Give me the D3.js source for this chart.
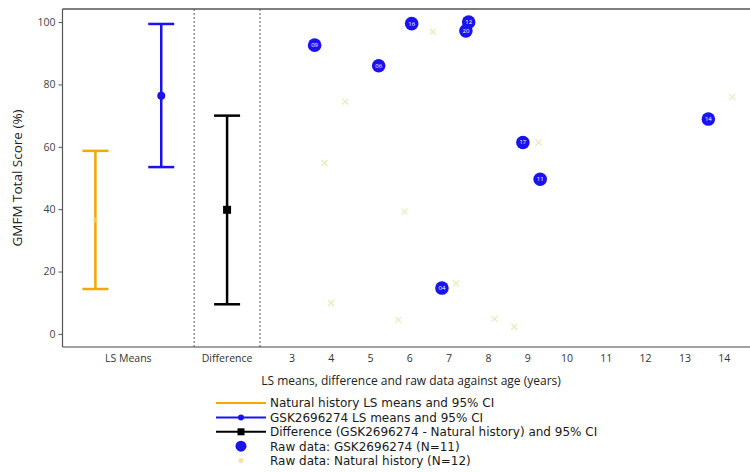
<!DOCTYPE html>
<html><head><meta charset="utf-8">
<script src="https://cdn.jsdelivr.net/npm/d3@7"></script>
<style>
html,body{margin:0;padding:0;background:#fff;}
svg text{font-family:"Open Sans","DejaVu Sans",sans-serif;}
</style></head>
<body><svg id="c" width="750" height="472"></svg>
<script>
// ---- data ----
const panelLabels = ["LS Means", "Difference"];
const ciGroups = ["Natural history", "GSK2696274", "Difference"];
const ciMean  = [36.5, 76.4, 39.8];
const ciLower = [14.4, 53.5, 9.5];
const ciUpper = [58.7, 99.4, 70.0];
const ciPos   = [0.5, 1.5, 2.5];          // position within the left panels
const panelPos = [1, 2.5];

const gskIds  = ["09","06","16","12","20","04","17","11","14"];
const gskAge  = [3.59, 5.22, 6.06, 7.51, 7.44, 6.83, 8.89, 9.33, 13.61];
const gskVal  = [92.6, 86.0, 99.5, 100.0, 97.2, 14.7, 61.4, 49.6, 68.9];

const nhAge   = [6.6, 4.37, 3.84, 5.88, 4.01, 5.72, 7.19, 8.17, 8.67, 9.29, 14.22];
const nhVal   = [96.9, 74.5, 54.8, 39.2, 9.9, 4.5, 16.2, 4.8, 2.3, 61.4, 76.0];

const yTicks  = [0, 20, 40, 60, 80, 100];
const ageTicks = [3,4,5,6,7,8,9,10,11,12,13,14];

const legendItems = [
  "Natural history LS means and 95% CI",
  "GSK2696274 LS means and 95% CI",
  "Difference (GSK2696274 - Natural history) and 95% CI",
  "Raw data: GSK2696274 (N=11)",
  "Raw data: Natural history (N=12)"
];

// ---- styles ----
const cOrange = "#f2a900", cBlue = "#1a12f0", cBlack = "#000";
const ciColors = [cOrange, cBlue, cBlack];

(function () {
const svg = d3.select("#c");
const pLeft = 62.5, pTop = 9, pBottom = 347, pRight = 750;
const sep2 = 260;

const y = d3.scaleLinear().domain([-4.2, 104.2]).range([pBottom, pTop]);
const xL = d3.scaleLinear().domain([0, 3]).range([pLeft, sep2]);
const xA = d3.scaleLinear().domain([2.2, 14.67]).range([sep2, pRight]);

// frame lines
svg.append("line").attr("x1", pLeft).attr("x2", pRight).attr("y1", pTop).attr("y2", pTop)
  .attr("stroke", "#555").attr("stroke-width", 1.3);
svg.append("line").attr("x1", pLeft).attr("x2", pRight).attr("y1", pBottom).attr("y2", pBottom)
  .attr("stroke", "#444").attr("stroke-width", 1.2);
svg.append("line").attr("x1", pLeft).attr("x2", pLeft).attr("y1", pTop).attr("y2", pBottom)
  .attr("stroke", "#555").attr("stroke-width", 1.2);

// separators
[xL(2), xL(3)].forEach(xx => {
  svg.append("line").attr("x1", xx).attr("x2", xx).attr("y1", pTop).attr("y2", pBottom)
    .attr("stroke", "#555").attr("stroke-width", 1).attr("stroke-dasharray", "2,2");
});

// y axis
const yAxis = d3.axisLeft(y).tickValues(yTicks).tickSize(4).tickPadding(3);
const gy = svg.append("g").attr("transform", `translate(${pLeft},0)`).call(yAxis);
gy.select(".domain").remove();
gy.selectAll("line").attr("stroke", "#555");
gy.selectAll("text").attr("font-size", 10.5).attr("fill", "#444");

svg.append("text").attr("transform", `translate(17,${y(50)}) rotate(-90)`)
  .attr("text-anchor", "middle").attr("dy", "0.35em").attr("font-size", 13.5).attr("fill", "#222")
  .text("GMFM Total Score (%)");

// x category labels
svg.selectAll(".pl").data(panelLabels).enter().append("text")
  .attr("x", (d, i) => xL(panelPos[i])).attr("y", 362)
  .attr("text-anchor", "middle").attr("font-size", 10.5).attr("fill", "#333").text(d => d);

// age axis
const xAxis = d3.axisBottom(xA).tickValues(ageTicks).tickSize(0).tickPadding(8);
const gx = svg.append("g").attr("transform", `translate(0,${pBottom})`).call(xAxis);
gx.select(".domain").remove();
gx.selectAll("text").attr("font-size", 10.5).attr("fill", "#333");

svg.append("text").attr("x", 411).attr("y", 385).attr("text-anchor", "middle")
  .attr("font-size", 12).attr("fill", "#222")
  .text("LS means, difference and raw data against age (years)");

// natural history raw data (faint x markers)
const nh = svg.append("g");
nhAge.forEach((a, i) => {
  const cx = xA(a), cy = y(nhVal[i]), s = 3;
  nh.append("path").attr("d", `M${cx-s},${cy-s}L${cx+s},${cy+s}M${cx-s},${cy+s}L${cx+s},${cy-s}`)
    .attr("stroke", "#e2e29a").attr("stroke-width", 1.2).attr("opacity", 0.7);
});

// CI bars
ciGroups.forEach((g, i) => {
  const cx = xL(ciPos[i]), col = ciColors[i], hw = 13;
  const gg = svg.append("g");
  gg.append("line").attr("x1", cx).attr("x2", cx).attr("y1", y(ciLower[i])).attr("y2", y(ciUpper[i]))
    .attr("stroke", col).attr("stroke-width", 2.5);
  [ciLower[i], ciUpper[i]].forEach(v => {
    gg.append("line").attr("x1", cx - hw).attr("x2", cx + hw).attr("y1", y(v)).attr("y2", y(v))
      .attr("stroke", col).attr("stroke-width", 2.5);
  });
  if (i === 0) {
    gg.append("circle").attr("cx", cx).attr("cy", y(ciMean[i])).attr("r", 2.5)
      .attr("fill", "#f7d98a").attr("opacity", 0.6);
  } else if (i === 1) {
    gg.append("circle").attr("cx", cx).attr("cy", y(ciMean[i])).attr("r", 4).attr("fill", col);
  } else {
    gg.append("rect").attr("x", cx - 4).attr("y", y(ciMean[i]) - 4).attr("width", 8).attr("height", 8).attr("fill", col);
  }
});

// GSK raw data
const gk = svg.append("g");
gskIds.forEach((id, i) => {
  const cx = xA(gskAge[i]), cy = y(gskVal[i]);
  gk.append("circle").attr("cx", cx).attr("cy", cy).attr("r", 6.8).attr("fill", cBlue);
  gk.append("text").attr("x", cx).attr("y", cy + 2).attr("text-anchor", "middle")
    .attr("font-size", 6).attr("fill", "#fff").text(id);
});

// legend
const lg = svg.append("g");
const lx1 = 216, lx2 = 266, ltx = 270, ly0 = 403, ldy = 14.4;
legendItems.forEach((t, i) => {
  const yy = ly0 + i * ldy;
  if (i < 3) {
    lg.append("line").attr("x1", lx1).attr("x2", lx2).attr("y1", yy).attr("y2", yy)
      .attr("stroke", ciColors[i]).attr("stroke-width", 2);
    if (i === 1) lg.append("circle").attr("cx", (lx1 + lx2) / 2).attr("cy", yy).attr("r", 3).attr("fill", cBlue);
    if (i === 2) lg.append("rect").attr("x", (lx1 + lx2) / 2 - 3.5).attr("y", yy - 3.5).attr("width", 7).attr("height", 7).attr("fill", cBlack);
  } else if (i === 3) {
    lg.append("circle").attr("cx", (lx1 + lx2) / 2).attr("cy", yy).attr("r", 5.5).attr("fill", cBlue);
  } else {
    lg.append("circle").attr("cx", (lx1 + lx2) / 2).attr("cy", yy).attr("r", 2.5).attr("fill", "#f9d890").attr("opacity", 0.8);
  }
  lg.append("text").attr("x", ltx).attr("y", yy + 4.3).attr("font-size", 12)
    .style("font-family", "'DejaVu Sans', sans-serif").attr("fill", "#1a1a1a").text(t);
});
})();
</script></body></html>
